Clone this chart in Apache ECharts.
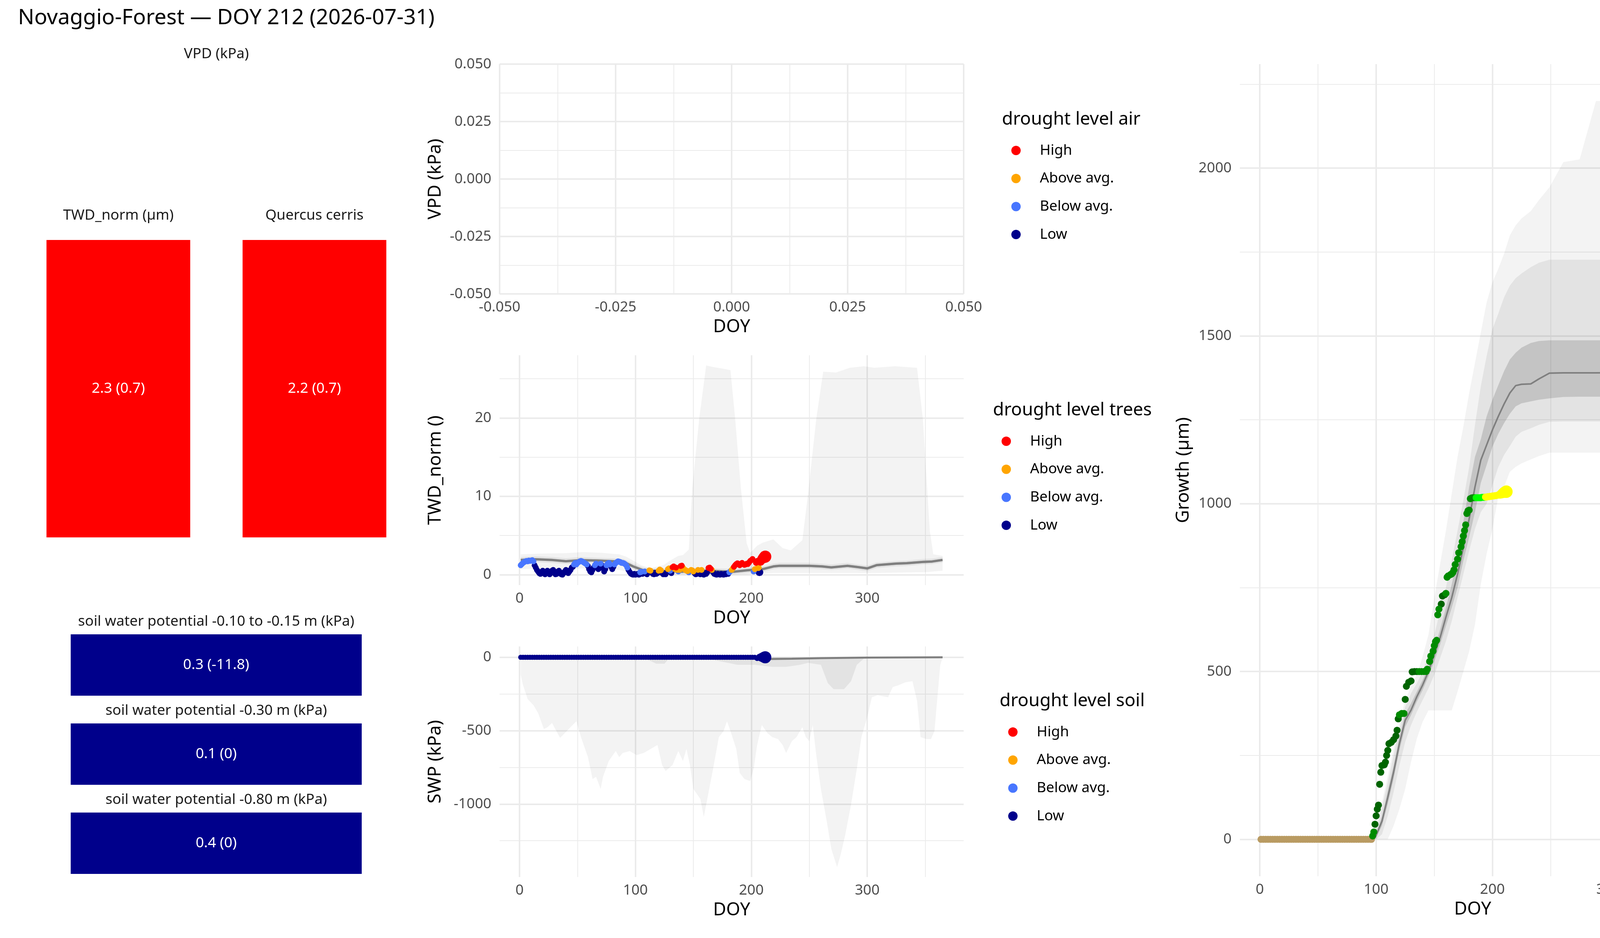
<!DOCTYPE html>
<html><head><meta charset="utf-8">
<script src="https://cdn.jsdelivr.net/npm/echarts@6/dist/echarts.min.js"></script>
<style>html,body{margin:0;padding:0;background:#fff}#c{width:4800px;height:2400px}</style>
</head><body><div id="c"></div>
<script>
// ---------------- DATA ----------------
const mainTitle = 'Novaggio-Forest — DOY 212 (2026-07-31)';
const vpdTileTitle = 'VPD (kPa)';
const twdTileNames = ['TWD_norm (µm)', 'Quercus cerris'];
const twdTileVal = [2.3, 2.2];
const twdTileSd = [0.7, 0.7];
const twdTileLvl = ['H', 'H'];
const soilNames = ['soil water potential -0.10 to -0.15 m (kPa)', 'soil water potential -0.30 m (kPa)', 'soil water potential -0.80 m (kPa)'];
const soilVal = [0.3, 0.1, 0.4];
const soilRef = [-11.8, 0, 0];
const soilLvl = ['L', 'L', 'L'];

// TWD daily points
const twdDoy = [1,2,3,4,5,6,7,8,9,10,11,12,13,14,15,16,17,18,19,20,21,22,23,24,25,26,27,28,29,30,31,32,33,34,35,36,37,38,39,40,41,42,43,44,45,46,47,48,49,50,51,52,53,54,55,56,57,58,59,60,61,62,63,64,65,66,67,68,69,70,71,72,73,74,75,76,77,78,79,80,81,82,83,84,85,86,87,88,89,90,91,92,93,94,95,96,97,98,99,100,101,102,103,104,105,106,107,108,109,110,111,112,113,114,115,116,117,118,119,120,121,122,123,124,125,126,127,128,129,130,131,132,133,134,135,136,137,138,139,140,141,142,143,144,145,146,147,148,149,150,151,152,153,154,155,156,157,158,159,160,161,162,163,164,165,166,167,168,169,170,171,172,173,174,175,176,177,178,179,180,181,182,183,184,185,186,187,188,189,190,191,192,193,194,195,196,197,198,199,200,201,202,203,204,205,206,207,208,209,210,211,212];
const twdVal = [
 1.2,1.35,1.5,1.6,1.7,1.75,1.7,1.8,1.75,1.8,1.85,1.7,
 1.2,0.9,0.6,0.4,0.2,0.1,0.3,0.5,0.2,0.05,0.3,0.5,0.2,0.05,0.2,0.5,0.6,0.3,0.05,0.1,0.4,0.5,0.3,0.05,0.0,0.2,0.4,0.6,0.5,0.2,0.4,0.6,0.9,1.0,
 1.3,1.5,1.3,1.5,1.6,1.7,1.75,1.7,1.6,1.5,1.4,1.3,
 1.1,0.7,0.4,0.3,0.6,0.9,
 1.2,1.4,
 1.0,0.7,1.1,
 1.4,
 1.2,0.8,0.4,0.7,
 1.2,1.4,1.5,1.3,
 1.0,0.7,1.0,
 1.3,1.5,1.6,1.7,1.65,1.6,1.5,1.5,1.45,1.35,1.2,0.9,
 0.6,0.35,0.15,0.05,0.0,0.1,0.0,0.05,0.1,0.0,
 0.3,0.35,
 0.1,0.25,
 0.4,
 0.2,0.05,0.3,
 0.55,0.5,
 0.3,0.1,0.05,0.25,0.1,0.2,
 0.5,0.65,0.55,
 0.2,0.05,0.15,0.05,0.3,
 0.7,0.8,
 0.5,
 0.2,
 0.95,1.05,
 0.7,
 0.9,
 0.6,
 0.4,
 0.6,
 1.1,1.15,
 0.9,0.7,0.6,0.5,0.45,
 0.3,0.45,
 0.6,0.55,0.4,
 0.2,0.05,0.1,
 0.6,
 0.3,0.05,
 0.6,
 0.1,0.0,0.2,0.1,0.3,
 0.85,0.9,0.75,
 0.6,
 0.3,0.1,0.05,0.0,0.1,0.05,0.0,0.1,0.05,0.0,0.1,0.05,0.15,0.1,
 0.3,0.45,
 0.6,0.8,
 1.0,1.2,1.35,1.45,1.3,1.2,1.4,1.5,1.35,1.25,1.3,1.4,1.35,1.55,1.75,1.85,2.0,
 0.4,
 0.7,
 1.5,1.75,
 0.9,
 0.3,
 1.7,1.95,2.1,2.2,2.3];
const twdLvl = [
 'B','B','B','B','B','B','B','B','B','B','B','B',
 'L','L','L','L','L','L','L','L','L','L','L','L','L','L','L','L','L','L','L','L','L','L','L','L','L','L','L','L','L','L','L','L','L','L',
 'B','B','B','B','B','B','B','B','B','B','B','B',
 'L','L','L','L','L','L',
 'B','B',
 'L','L','L',
 'B',
 'L','L','L','L',
 'B','B','B','B',
 'L','L','L',
 'B','B','B','B','B','B','B','B','B','B','B','B',
 'L','L','L','L','L','L','L','L','L','L',
 'B','B',
 'L','L',
 'B',
 'L','L','L',
 'A','A',
 'L','L','L','L','L','L',
 'A','A','A',
 'L','L','L','L','L',
 'A','A',
 'B',
 'L',
 'H','H',
 'A',
 'H',
 'A',
 'B',
 'A',
 'H','H',
 'A','A','A','A','A',
 'B','B',
 'A','A','A',
 'L','L','L',
 'A',
 'L','L',
 'A',
 'L','L','L','L','L',
 'H','H','H',
 'A',
 'L','L','L','L','L','L','L','L','L','L','L','L','L','L',
 'B','B',
 'A','A',
 'H','H','H','H','H','H','H','H','H','H','H','H','H','H','H','H','H',
 'B',
 'A',
 'H','H',
 'A',
 'L',
 'H','H','H','H','H'];

// TWD reference median and bands
const twdMedDoy = [1,14,28,40,53,67,81,90,98,107,118,130,140,154,168,180,185,196,210,219,224,238,250,261,269,283,292,300,308,325,334,348,356,365];
const twdMed   = [1.88,1.96,1.88,1.71,1.85,1.80,1.71,1.63,1.05,0.55,0.47,0.45,0.38,0.55,0.47,0.38,0.38,0.55,0.71,1.05,1.13,1.13,1.13,1.05,0.93,1.13,0.96,0.80,1.21,1.41,1.46,1.63,1.68,1.88];
const twdMidLo = [1.5,1.6,1.5,1.35,1.5,1.45,1.35,1.25,0.7,0.25,0.15,0.1,0.05,0.2,0.15,0.05,0.05,0.2,0.35,0.7,0.8,0.8,0.8,0.7,0.6,0.8,0.6,0.45,0.85,1.05,1.1,1.3,1.35,1.55];
const twdMidHi = [2.25,2.35,2.25,2.1,2.25,2.15,2.1,2.0,1.4,0.9,0.8,0.8,0.75,0.9,0.8,0.75,0.75,0.9,1.05,1.4,1.5,1.5,1.5,1.4,1.3,1.5,1.3,1.15,1.55,1.75,1.8,2.0,2.05,2.25];
const twdInLo  = [1.73,1.81,1.73,1.56,1.70,1.65,1.56,1.48,0.90,0.40,0.32,0.30,0.23,0.40,0.32,0.23,0.23,0.40,0.56,0.90,0.98,0.98,0.98,0.90,0.78,0.98,0.81,0.65,1.06,1.26,1.31,1.48,1.53,1.73];
const twdInHi  = [2.03,2.11,2.03,1.86,2.00,1.95,1.86,1.78,1.20,0.70,0.62,0.60,0.53,0.70,0.62,0.53,0.53,0.70,0.86,1.20,1.28,1.28,1.28,1.20,1.08,1.28,1.11,0.95,1.36,1.56,1.61,1.78,1.83,2.03];
const twdOutDoy = [1,20,40,55,70,86,92,98,105,113,118,124,130,137,141,146,149,155,161,167,175,182,186,191,196,199,205,210,219,227,234,244,249,256,262,273,285,297,306,324,343,348,354,357,365];
const twdOutLo  = [0.7,0.8,0.7,0.8,0.7,0.6,0.4,0.1,0,0,0,0,0,0,0,0,0,0,0,0,0,0,0,0,0,0.05,0.1,0.15,0.2,0.2,0.2,0.2,0.2,0.2,0.2,0.2,0.2,0.2,0.2,0.25,0.3,0.3,0.35,0.4,0.5];
const twdOutHi  = [2.6,2.7,2.75,2.88,2.8,2.6,2.3,1.8,1.2,0.8,1.0,1.2,1.8,2.4,2.5,3.2,11.0,19.9,26.7,26.5,26.3,26.1,20.0,11.0,4.0,2.8,3.7,4.1,4.5,3.4,3.1,4.4,10.4,19.9,25.9,25.8,26.4,26.6,26.4,26.6,26.4,19.9,5.6,2.6,2.4];

// SWP points (kPa)
const swpDoy = [1,3,5,7,9,11,13,15,17,19,21,23,25,27,29,31,33,35,37,39,41,43,45,47,49,51,53,55,57,59,61,63,65,67,69,71,73,75,77,79,81,83,85,87,89,91,93,95,97,99,101,103,105,107,109,111,113,115,117,119,121,123,125,127,129,131,133,135,137,139,141,143,145,147,149,151,153,155,157,159,161,163,165,167,169,171,173,175,177,179,181,183,185,187,189,191,193,195,197,199,201,203,205,207,209,211,212];
const swpVal = [0,0,0,0,0,0,0,0,0,0,0,0,0,0,0,0,0,0,0,0,0,0,0,0,0,0,0,0,0,0,0,0,0,0,0,0,0,0,0,0,0,0,0,0,0,0,0,0,0,0,0,0,0,0,0,0,0,0,0,0,0,0,0,0,0,0,0,0,0,0,0,0,0,0,0,0,0,0,0,0,0,0,0,0,0,0,0,0,0,0,0,0,0,0,0,0,0,0,0,0,0,0,-8,0,0,0,0];
const swpLvl = ['L','L','L','L','L','L','L','L','L','L','L','L','L','L','L','L','L','L','L','L','L','L','L','L','L','L','L','L','L','L','L','L','L','L','L','L','L','L','L','L','L','L','L','L','L','L','L','L','L','L','L','L','L','L','L','L','L','L','L','L','L','L','L','L','L','L','L','L','L','L','L','L','L','L','L','L','L','L','L','L','L','L','L','L','L','L','L','L','L','L','L','L','L','L','L','L','L','L','L','L','L','L','L','L','L','L','L'];
const swpMedDoy = [1,100,200,215,235,260,300,365];
const swpMed    = [0,-3,-8,-12,-10,-6,-2,0];
const swpOutDoy = [1,3,7,12,16,21,24,28,35,39,44,49,53,59,63,66,70,72,77,83,86,89,95,101,107,113,119,123,126,132,137,141,144,147,150,156,159,162,167,172,176,179,182,187,190,194,199,202,205,209,214,218,223,227,230,235,239,244,247,250,253,256,260,265,269,274,277,281,286,291,295,300,304,309,313,318,322,327,333,339,343,346,351,355,358,363,365];
const swpOutLo  = [-120,-190,-285,-326,-380,-489,-477,-448,-549,-517,-476,-436,-544,-680,-829,-815,-897,-815,-707,-639,-680,-652,-639,-666,-652,-625,-598,-734,-775,-734,-639,-707,-625,-734,-897,-965,-1088,-965,-761,-544,-503,-436,-503,-625,-788,-829,-843,-761,-598,-462,-517,-544,-557,-598,-652,-571,-544,-476,-544,-571,-462,-666,-897,-1115,-1306,-1430,-1347,-1211,-1006,-761,-544,-408,-272,-258,-265,-272,-203,-190,-170,-163,-299,-544,-557,-557,-503,-54,0];
const swpMidDoy = [1,100,111,118,125,128,167,188,203,218,230,242,249,260,266,271,280,286,291,297,365];
const swpMidLo  = [-5,-10,-17,-44,-44,-17,-17,-51,-51,-65,-65,-51,-38,-51,-176,-217,-217,-163,-51,-10,0];

// Growth points (µm)
const grDoy = [1,3,5,7,9,11,13,15,17,19,21,23,25,27,29,31,33,35,37,39,41,43,45,47,49,51,53,55,57,59,61,63,65,67,69,71,73,75,77,79,81,83,85,87,89,91,93,95,96,
 97,98,99,100,101,102,103,104,105,107,108,109,110,111,113,115,117,118,119,120,122,124,125,126,128,130,131,133,135,137,139,141,143,144,146,147,149,150,151,152,153,154,156,157,159,160,161,162,164,165,166,167,168,170,171,173,174,175,176,177,178,179,180,181,
 182,183,184,185,186,187,188,189,
 190,191,192,193,194,195,196,197,198,199,200,201,202,203,204,205,206,207,208,209,210,211,212];
const grVal = [0,0,0,0,0,0,0,0,0,0,0,0,0,0,0,0,0,0,0,0,0,0,0,0,0,0,0,0,0,0,0,0,0,0,0,0,0,0,0,0,0,0,0,0,0,0,0,0,0,
 10,22,45,70,90,102,164,200,220,222,230,250,265,285,289,297,308,325,359,371,375,375,417,456,468,472,499,500,500,500,500,500,500,507,530,546,561,577,589,593,669,686,701,725,729,733,781,785,789,791,795,803,819,835,854,872,887,904,920,937,971,979,981,1015,
 1017,1018,1018,1018,1018,1018,1018,1018,
 1018,1019,1019,1019,1020,1020,1021,1021,1022,1022,1023,1023,1024,1024,1025,1026,1027,1028,1030,1032,1034,1035,1036];
const grLvl = ['D','D','D','D','D','D','D','D','D','D','D','D','D','D','D','D','D','D','D','D','D','D','D','D','D','D','D','D','D','D','D','D','D','D','D','D','D','D','D','D','D','D','D','D','D','D','D','D','D',
 'A','A','H','H','H','H','H','H','H','H','H','H','H','H','H','H','H','H','H','A','A','A','H','H','H','H','H','H','H','A','A','A','A','A','A','A','A','A','A','A','A','A','H','H','H','A','A','A','A','A','A','A','A','A','A','A','A','A','A','A','A','A','A','A','A','A','A','A',
 'B','B','B','B','B','B','B','B',
 'L','L','L','L','L','L','L','L','L','L','L','L','L','L','L','L','L','L','L','L','L','L','L'];

// Growth reference median and bands
const gDoy   = [1,95,100,105,110,115,120,125,130,135,140,145,150,155,160,165,170,175,180,185,190,195,200,205,210,215,220,225,233,240,249,261,275,289,335,339,360,365];
const gMed   = [0,0,12,54,125,200,285,355,385,425,460,500,550,601,662,720,790,870,955,1050,1130,1175,1220,1260,1297,1330,1352,1356,1357,1372,1389,1390,1390,1390,1391,1391,1391,1391];
const gInLo  = [0,0,5,40,105,180,265,335,370,410,445,485,530,580,635,690,750,830,900,975,1062,1115,1170,1208,1240,1268,1290,1299,1305,1310,1314,1318,1319,1319,1319,1341,1341,1341];
const gInHi  = [0,0,18,68,145,220,305,375,405,440,475,515,570,625,690,760,840,945,1050,1140,1192,1260,1310,1353,1395,1430,1450,1465,1479,1485,1487,1487,1487,1487,1487,1487,1487,1626];
const gMidLo = [0,0,0,15,70,140,220,290,340,380,415,450,490,540,590,650,720,790,860,925,975,1000,1055,1109,1145,1172,1200,1214,1225,1235,1244,1245,1245,1245,1245,1245,1245,1279];
const gMidHi = [0,0,25,95,170,250,330,395,435,465,500,550,610,680,750,830,920,1010,1110,1235,1350,1440,1520,1566,1615,1650,1672,1686,1705,1718,1727,1727,1727,1727,1727,1727,1727,1751];
const gOutLo = [0,0,0,0,0,40,90,150,230,300,350,384,384,384,384,384,440,500,560,640,760,850,925,1020,1050,1095,1110,1120,1132,1142,1152,1152,1152,1152,1152,1152,1152,1152];
const gOutHi = [0,0,35,110,190,270,350,415,455,490,545,610,720,820,920,1030,1140,1230,1330,1420,1510,1600,1660,1700,1745,1800,1830,1850,1872,1905,1943,2018,2026,2200,2200,2200,2200,2200];

const LAST_DOY = 212;

// ---------------- STYLE ----------------
const FONT = 'Noto Sans';
const LVL = {H:'High', A:'Above avg.', B:'Below avg.', L:'Low', D:'Dormant'};
const droughtColors = {H:'#FF0000', A:'#FFA500', B:'#4876FF', L:'#00008B'};
const growthColors = {H:'#006400', A:'#008B00', B:'#00FF00', L:'#FFFF00', D:'#B99B62'};
const BAND_OUT = 'rgba(0,0,0,0.047)';
const BAND_MID = 'rgba(0,0,0,0.062)';
const BAND_IN  = 'rgba(0,0,0,0.132)';
const MED_COLOR = '#7F7F7F';
const TICK = {fontSize:37, color:'#4D4D4D', fontFamily:FONT};
const NAME = {fontSize:46, color:'#000000', fontFamily:FONT};
const GRID_COLOR = '#EBEBEB';

function grow(doy, base, last) {
  const d = LAST_DOY - doy;
  return d < 7 ? base + (last - base) * (7 - d) / 7 : base;
}
function multipleFmt(step) {
  return v => (Math.abs(v / step - Math.round(v / step)) < 1e-6 ? String(Math.round(v)) : '');
}
function valAxis(o, edges) {
  return Object.assign({
    type:'value', axisLine:{show:false}, axisTick:{show:false},
    minorTick:{show:false, splitNumber:2},
    splitLine:{show:true, showMinLine:!!edges, showMaxLine:!!edges, lineStyle:{color:GRID_COLOR, width:4}},
    minorSplitLine:{show:true, lineStyle:{color:GRID_COLOR, width:2}},
    nameLocation:'middle', nameTextStyle:NAME, nameMoveOverlap:false
  }, o);
}
function doyAxis(gi) {
  return valAxis({gridIndex:gi, min:-17.2, max:383.2, minInterval:100, maxInterval:100,
    name:'DOY', nameGap:62, axisLabel:Object.assign({margin:16, formatter:multipleFmt(100)}, TICK)}, false);
}
function catAxis(gi, data, margin) {
  return {type:'category', gridIndex:gi, data:data, position:'top',
    axisLine:{show:false}, axisTick:{show:false}, splitLine:{show:false},
    axisLabel:{interval:0, margin:margin, fontSize:37, color:'#1A1A1A', fontFamily:FONT}};
}
function hiddenY(gi) { return {type:'value', gridIndex:gi, min:0, max:1, show:false}; }

// ribbon between lo and hi drawn as one polygon through the axis scales
function band(ai, doy, lo, hi, color) {
  return {type:'custom', xAxisIndex:ai, yAxisIndex:ai, silent:true, z:1, clip:true,
    data: doy.map((d,i)=>[d, lo[i], hi[i]]),
    encode:{x:0, y:[1,2]},
    renderItem: (params, api) => {
      if (params.dataIndexInside !== 0) return null;
      const n = params.dataInsideLength;
      const pts = [];
      for (let j = 0; j < n; j++) pts.push(api.coord([api.value(0, j), api.value(2, j)]));
      for (let j = n - 1; j >= 0; j--) pts.push(api.coord([api.value(0, j), api.value(1, j)]));
      return {type:'polygon', shape:{points:pts}, style:{fill:color, stroke:null}};
    }};
}
function medLine(ai, doy, val, w) {
  return {type:'line', xAxisIndex:ai, yAxisIndex:ai, symbol:'none', silent:true, z:2,
    lineStyle:{color:MED_COLOR, width:w}, data: doy.map((d,i)=>[d, val[i]])};
}
function points(prefix, ai, codes, doy, val, lvl, colors, base, last) {
  return codes.map(c => ({
    type:'scatter', name: prefix + '|' + LVL[c], xAxisIndex:ai, yAxisIndex:ai, silent:true, z:5,
    symbol:'circle', symbolSize: v => grow(v[0], base, last),
    itemStyle:{color:colors[c], opacity:1},
    data: doy.map((d,i)=>[d, val[i], lvl[i]]).filter(p=>p[2]===c).map(p=>[p[0], p[1]])
  }));
}
function legend(prefix, codes, left, top) {
  return {orient:'vertical', left:left, top:top, padding:0, itemWidth:24, itemHeight:24, itemGap:31.7,
    icon:'circle', selectedMode:false, data: codes.map(c => prefix + '|' + LVL[c]),
    formatter: n => n.split('|')[1],
    textStyle:{fontSize:37, color:'#000', fontFamily:FONT, lineHeight:40, padding:[0,0,0,44]}};
}
function gtext(text, x, y, size, align, color) {
  return {type:'text', x:x, y:y, silent:true,
    style:{text:text, fontSize:size, fontFamily:FONT, fill:color || '#000', align:align || 'left', verticalAlign:'middle'}};
}

const DCODES = ['H','A','B','L'];
const GCODES = ['H','A','B','L','D'];

const option = {
  animation:false,
  backgroundColor:'#ffffff',
  textStyle:{fontFamily:FONT},
  grid:[
    {left:1279, top:164, width:1188, height:588, outerBoundsMode:'none'},
    {left:1279, top:909, width:1188, height:588, outerBoundsMode:'none'},
    {left:1279, top:1654, width:1188, height:590, outerBoundsMode:'none'},
    {left:3174, top:164, width:1192, height:2078, outerBoundsMode:'none'},
    {left:52, top:614, width:1004, height:761, outerBoundsMode:'none'},
    {left:181, top:1623, width:745, height:157, outerBoundsMode:'none'},
    {left:181, top:1851, width:745, height:157, outerBoundsMode:'none'},
    {left:181, top:2079, width:745, height:157, outerBoundsMode:'none'}
  ],
  xAxis:[
    valAxis({gridIndex:0, min:-0.05, max:0.05, interval:0.025, name:'DOY', nameGap:62,
      axisLabel:Object.assign({margin:16, formatter:v=>v.toFixed(3)}, TICK)}, true),
    doyAxis(1), doyAxis(2), doyAxis(3),
    catAxis(4, twdTileNames, 44),
    catAxis(5, [soilNames[0]], 14),
    catAxis(6, [soilNames[1]], 14),
    catAxis(7, [soilNames[2]], 14)
  ],
  yAxis:[
    valAxis({gridIndex:0, min:-0.05, max:0.05, interval:0.025, name:'VPD (kPa)', nameGap:141,
      axisLabel:Object.assign({margin:21, formatter:v=>v.toFixed(3)}, TICK)}, true),
    valAxis({gridIndex:1, min:-1.33, max:28.0, minInterval:10, maxInterval:10, name:'TWD_norm ()', nameGap:141,
      axisLabel:Object.assign({margin:21, formatter:multipleFmt(10)}, TICK)}, false),
    valAxis({gridIndex:2, min:-1497, max:74, minInterval:500, maxInterval:500, name:'SWP (kPa)', nameGap:141,
      axisLabel:Object.assign({margin:21, formatter:multipleFmt(500)}, TICK)}, false),
    valAxis({gridIndex:3, min:-110, max:2310, minInterval:500, maxInterval:500, name:'Growth (µm)', nameGap:121,
      axisLabel:Object.assign({margin:21, formatter:multipleFmt(500)}, TICK)}, false),
    hiddenY(4), hiddenY(5), hiddenY(6), hiddenY(7)
  ],
  legend:[
    legend('air', DCODES, 2589, 365),
    legend('trees', DCODES, 2564, 1109),
    legend('soil', DCODES, 2581, 1853),
    legend('growth', GCODES, 4458, 1074)
  ],
  graphic:[
    gtext(mainTitle, 46, 46, 55, 'left'),
    gtext(vpdTileTitle, 554, 138, 37, 'center', '#1A1A1A'),
    gtext('drought level air', 2565, 306, 46, 'left'),
    gtext('drought level trees', 2542, 1050, 46, 'left'),
    gtext('drought level soil', 2559, 1794, 46, 'left'),
    gtext('growth status', 4436, 1015, 46, 'left')
  ],
  series:[].concat(
    // VPD (no data; legend only)
    DCODES.map(c => ({type:'scatter', name:'air|' + LVL[c], xAxisIndex:0, yAxisIndex:0, data:[], itemStyle:{color:droughtColors[c], opacity:1}})),
    // TWD
    [band(1, twdOutDoy, twdOutLo, twdOutHi, BAND_OUT),
     band(1, twdMedDoy, twdMidLo, twdMidHi, BAND_MID),
     band(1, twdMedDoy, twdInLo, twdInHi, BAND_IN),
     medLine(1, twdMedDoy, twdMed, 6)],
    points('trees', 1, ['L','B','A','H'], twdDoy, twdVal, twdLvl, droughtColors, 15, 31),
    // SWP
    [{type:'line', xAxisIndex:2, yAxisIndex:2, symbol:'none', silent:true, z:1, lineStyle:{width:0, opacity:0},
      areaStyle:{color:BAND_OUT, opacity:1, origin:'auto'}, data: swpOutDoy.map((d,i)=>[d, swpOutLo[i]])},
     {type:'line', xAxisIndex:2, yAxisIndex:2, symbol:'none', silent:true, z:1, lineStyle:{width:0, opacity:0},
      areaStyle:{color:BAND_MID, opacity:1, origin:'auto'}, data: swpMidDoy.map((d,i)=>[d, swpMidLo[i]])},
     medLine(2, swpMedDoy, swpMed, 5)],
    points('soil', 2, ['L','B','A','H'], swpDoy, swpVal, swpLvl, droughtColors, 13, 31),
    // Growth
    [band(3, gDoy, gOutLo, gOutHi, BAND_OUT),
     band(3, gDoy, gMidLo, gMidHi, BAND_MID),
     band(3, gDoy, gInLo, gInHi, BAND_IN),
     medLine(3, gDoy, gMed, 4)],
    points('growth', 3, ['D','H','A','B','L'], grDoy, grVal, grLvl, growthColors, 18, 32),
    // Tiles
    [{type:'bar', xAxisIndex:4, yAxisIndex:4, barWidth:368, silent:true,
      data: twdTileVal.map((v,i)=>({value:1, itemStyle:{color:droughtColors[twdTileLvl[i]]}})),
      label:{show:true, position:'inside', color:'#fff', fontSize:37, fontFamily:FONT,
        formatter: p => twdTileVal[p.dataIndex] + ' (' + twdTileSd[p.dataIndex] + ')'}}],
    soilNames.map((n,k) => ({type:'bar', xAxisIndex:5+k, yAxisIndex:5+k, barWidth:'100%', silent:true,
      data:[{value:1, itemStyle:{color:droughtColors[soilLvl[k]]}}],
      label:{show:true, position:'inside', color:'#fff', fontSize:37, fontFamily:FONT,
        formatter: () => soilVal[k] + ' (' + soilRef[k] + ')'}}))
  )
};

const chart = echarts.init(document.getElementById('c'), null, {renderer:'canvas', width:4800, height:2400});
chart.setOption(option);
</script></body></html>
